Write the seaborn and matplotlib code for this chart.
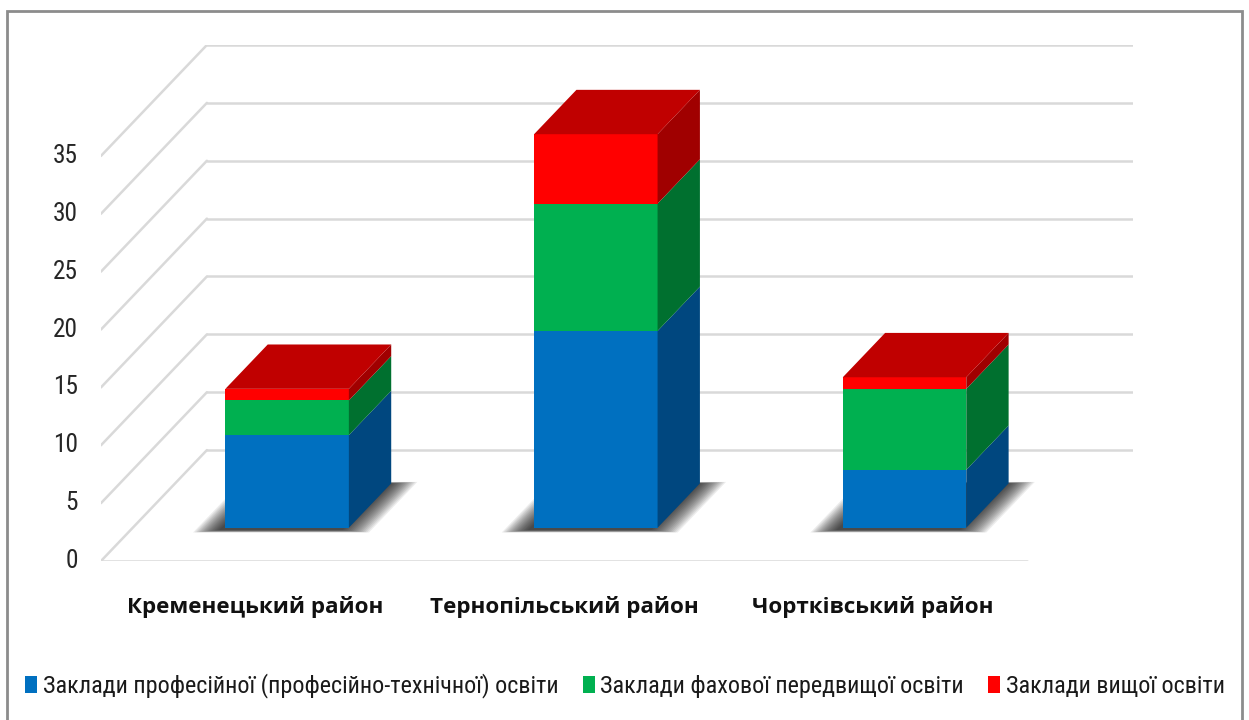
import matplotlib as mpl
mpl.use('Agg')

import numpy as np
import seaborn as sns
import matplotlib.pyplot as plt
from matplotlib.patches import Polygon, Patch, Rectangle
from matplotlib import font_manager

# data
districts = ['Кременецький район', 'Тернопільський район', 'Чортківський район']
vocational = [8, 17, 5]
prehigher = [3, 11, 7]
higher = [1, 6, 1]
series_names = ['Заклади професійної (професійно-технічної) освіти',
                'Заклади фахової передвищої освіти',
                'Заклади вищої освіти']
y_ticks = [0, 5, 10, 15, 20, 25, 30, 35]

front_colors = ['#0070C0', '#00B050', '#FF0000']
side_colors = ['#00477F', '#00702F', '#A00000']
top_color = '#C00000'
grid_c = '#D9D9D9'

sns.set_theme(style='white')

# pick a narrow face if one is there (the original uses a narrow sans)
fonts = font_manager.fontManager.ttflist
names = {f.name for f in fonts}
stretch = 'normal'
narrow = None
for cand in ['Liberation Sans Narrow', 'Arial Narrow', 'Roboto Condensed', 'Open Sans Condensed']:
    if cand in names:
        narrow = cand
        break
if narrow is None:
    if any(f.name == 'DejaVu Sans' and f.stretch in ('condensed', 'semi-condensed') for f in fonts):
        narrow, stretch = 'DejaVu Sans', 'condensed'
    else:
        narrow = 'Liberation Sans'
plt.rcParams['font.family'] = [narrow, 'DejaVu Sans']
plt.rcParams['font.stretch'] = stretch

W, H = 1249, 720
fig = plt.figure(figsize=(W / 100, H / 100), dpi=100)
renderer = fig.canvas.get_renderer()


def fit_size(text, target_px, **kw):
    t = fig.text(0, 0, text, fontsize=20, **kw)
    w = t.get_window_extent(renderer=renderer).width
    t.remove()
    return 20 * target_px / w


ax = fig.add_axes([101 / W, 1 - 561 / H, (1133 - 101) / W, (561 - 45) / H])

# oblique "3d": depth of the floor in x units and value units
DX, DY = 0.343, 9.58
d0, dd = 0.3, 0.4          # bar front depth and bar depth (fraction of floor)
ox, oy = d0 * DX, d0 * DY
bx, by = dd * DX, dd * DY
width = 0.4
n = len(districts)

# walls
tick_fs = min(19, fit_size('35', 25))
for v in y_ticks:
    ax.plot([-0.5 + DX, n - 0.5 + DX], [v + DY, v + DY], color=grid_c, lw=1.8, zorder=1)
    ax.plot([-0.5, -0.5 + DX], [v, v + DY], color=grid_c, lw=1.8, zorder=1)
    ax.text(-0.5 - 0.075, v, str(v), ha='right', va='center', fontsize=tick_fs, color='#262626')
ax.plot([-0.5, n - 0.5], [0, 0], color=grid_c, lw=1.8, zorder=1)

# soft shadows under bars
for i in range(n):
    xl, xr = i + ox - width / 2, i + ox + width / 2
    for e in np.linspace(0.085, 0.0, 16):
        ey = e * 5
        pts = [(xl - e - 0.02, oy - 0.2 - ey * 0.5), (xr + e - 0.02, oy - 0.2 - ey * 0.5),
               (xr + bx + e, oy + by + ey * 0.3), (xl + bx - e, oy + by + ey * 0.3)]
        ax.add_patch(Polygon(pts, closed=True, fc='#000000', ec='none', alpha=0.07, zorder=2))

# stacked bars: fronts with seaborn, sides and tops as polygons
bottoms = np.zeros(n)
for k, seg in enumerate([vocational, prehigher, higher]):
    seg = np.array(seg, dtype=float)
    n0 = len(ax.patches)
    sns.barplot(x=districts, y=seg, color=front_colors[k], saturation=1, width=width,
                ax=ax, zorder=3, linewidth=0)
    for p, b in zip(ax.patches[n0:], bottoms):
        p.set_x(p.get_x() + ox)
        p.set_y(b + oy)
    for i in range(n):
        xr = i + ox + width / 2
        y0, y1 = bottoms[i] + oy, bottoms[i] + seg[i] + oy
        ax.add_patch(Polygon([(xr, y0), (xr, y1), (xr + bx, y1 + by), (xr + bx, y0 + by)],
                             closed=True, fc=side_colors[k], ec='none', zorder=3))
    bottoms += seg

for i in range(n):
    xl, xr = i + ox - width / 2, i + ox + width / 2
    t = bottoms[i] + oy
    ax.add_patch(Polygon([(xl, t), (xr, t), (xr + bx, t + by), (xl + bx, t + by)],
                         closed=True, fc=top_color, ec='none', zorder=3))

cat_fam = ['Open Sans', 'DejaVu Sans']
cat_fs = fit_size(districts[0], 256, fontweight='bold', family=cat_fam, fontstretch='normal')
for i, name in enumerate(districts):
    ax.text(i, -3.95, name, ha='center', va='center', fontsize=cat_fs, fontweight='bold',
            color='#111111', family=cat_fam, fontstretch='normal')

ax.set_xlim(-0.5, n - 0.5 + DX)
ax.set_ylim(0, 35 + DY)
ax.set_axis_off()

# legend
leg_fs = fit_size(series_names[0], 514)
px = leg_fs * 100 / 72
handles = [Patch(facecolor=c, edgecolor='none') for c in front_colors]
fig.legend(handles, series_names, loc='center', bbox_to_anchor=(625 / W, 1 - 686 / H), ncol=3,
           frameon=False, fontsize=leg_fs, handlelength=12 / px, handleheight=16 / px,
           handletextpad=6 / px, columnspacing=24 / px, borderpad=0, labelcolor='#1a1a1a')

fig.add_artist(Rectangle((7 / W, -0.01), (1242 - 7) / W, 1 - 11 / H + 0.01,
                         transform=fig.transFigure, fill=False, ec='#8c8c8c', lw=2))

fig.savefig('out.png', dpi=100)
